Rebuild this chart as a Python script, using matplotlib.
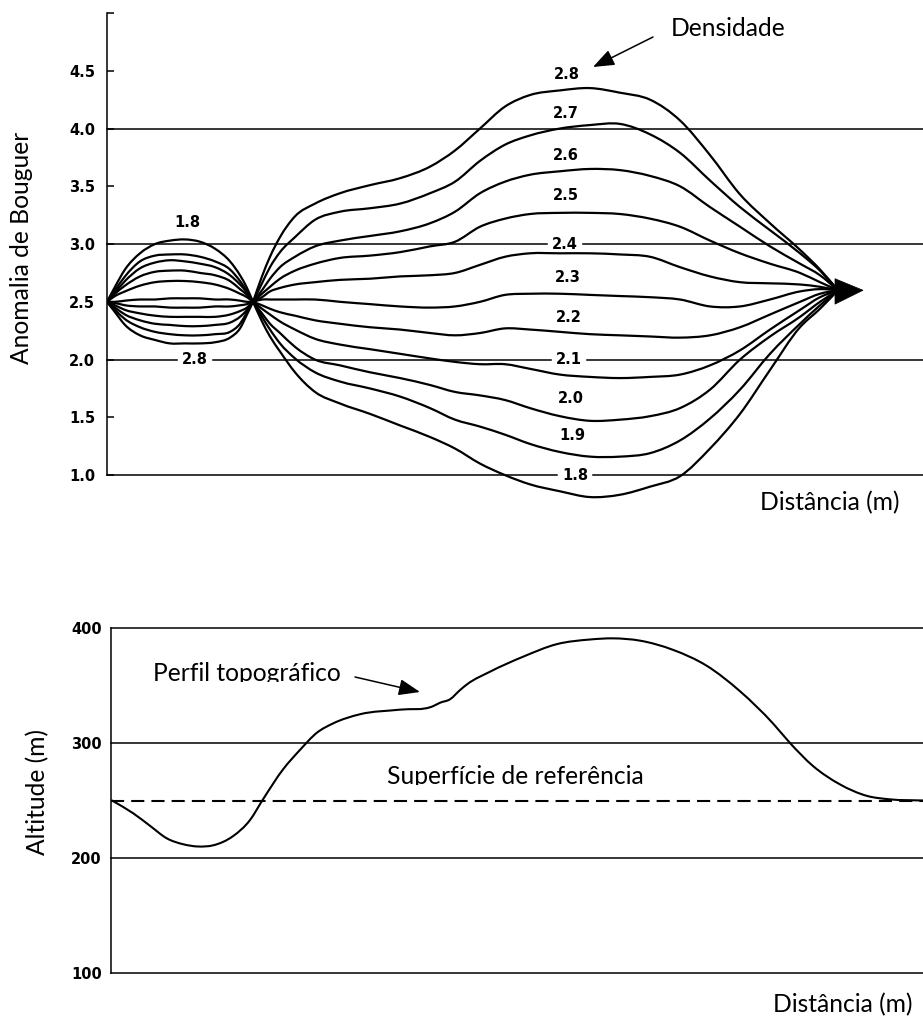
import matplotlib
matplotlib.use("Agg")
import numpy as np
import matplotlib.pyplot as plt
from matplotlib.patches import Polygon, PathPatch
from matplotlib.path import Path
from matplotlib.transforms import Bbox, TransformedBbox

# ------------------------------------------------------------------
# Trial densities (g/cm3) used to reduce the gravity profile
densities = [1.8, 1.9, 2.0, 2.1, 2.2, 2.3, 2.4, 2.5, 2.6, 2.7, 2.8]

# Bouguer anomaly over the valley section (left of the profile)
dist_valley = [0, 8, 18, 33, 48, 63, 78, 93, 108, 123, 133, 140, 146]
valley_d18 = [2.50, 2.63, 2.78, 2.92, 3.00, 3.03, 3.04, 3.02, 2.96, 2.85, 2.73, 2.62, 2.50]
valley_d19 = [2.50, 2.60, 2.72, 2.85, 2.90, 2.91, 2.91, 2.89, 2.85, 2.78, 2.68, 2.59, 2.50]
valley_d20 = [2.50, 2.58, 2.68, 2.79, 2.84, 2.86, 2.85, 2.83, 2.80, 2.73, 2.65, 2.58, 2.50]
valley_d21 = [2.50, 2.57, 2.64, 2.72, 2.76, 2.77, 2.77, 2.75, 2.73, 2.68, 2.61, 2.56, 2.50]
valley_d22 = [2.50, 2.55, 2.59, 2.64, 2.67, 2.68, 2.68, 2.67, 2.65, 2.61, 2.57, 2.54, 2.50]
valley_d23 = [2.50, 2.50, 2.51, 2.52, 2.52, 2.53, 2.53, 2.53, 2.52, 2.52, 2.51, 2.50, 2.50]
valley_d24 = [2.50, 2.49, 2.47, 2.46, 2.46, 2.45, 2.45, 2.45, 2.46, 2.46, 2.47, 2.48, 2.50]
valley_d25 = [2.50, 2.47, 2.43, 2.40, 2.38, 2.37, 2.37, 2.37, 2.37, 2.39, 2.42, 2.45, 2.50]
valley_d26 = [2.50, 2.45, 2.39, 2.34, 2.31, 2.30, 2.29, 2.29, 2.30, 2.32, 2.37, 2.43, 2.50]
valley_d27 = [2.50, 2.43, 2.35, 2.28, 2.24, 2.22, 2.21, 2.21, 2.22, 2.24, 2.31, 2.41, 2.50]
valley_d28 = [2.50, 2.41, 2.30, 2.21, 2.17, 2.14, 2.14, 2.14, 2.15, 2.19, 2.27, 2.39, 2.50]

# Bouguer anomaly over the hill section
dist_hill = [146, 155, 163, 173, 188, 208, 233, 263, 293, 323, 348, 373, 398,
             423, 453, 483, 513, 543, 573, 603, 633, 663, 693, 713, 731]
hill_d18 = [2.50, 2.33, 2.20, 2.07, 1.89, 1.72, 1.62, 1.53, 1.43, 1.33, 1.23, 1.10, 1.00,
            0.92, 0.86, 0.81, 0.83, 0.90, 0.99, 1.23, 1.53, 1.91, 2.28, 2.44, 2.60]
hill_d19 = [2.50, 2.37, 2.26, 2.14, 2.01, 1.89, 1.81, 1.75, 1.68, 1.58, 1.48, 1.42, 1.35,
            1.27, 1.20, 1.16, 1.16, 1.19, 1.30, 1.49, 1.74, 2.05, 2.31, 2.47, 2.60]
hill_d20 = [2.50, 2.40, 2.31, 2.23, 2.11, 2.00, 1.95, 1.89, 1.84, 1.78, 1.72, 1.69, 1.65,
            1.58, 1.51, 1.47, 1.48, 1.51, 1.58, 1.74, 2.00, 2.20, 2.37, 2.50, 2.60]
hill_d21 = [2.50, 2.44, 2.39, 2.33, 2.26, 2.18, 2.13, 2.09, 2.05, 2.01, 1.98, 1.96, 1.96,
            1.92, 1.87, 1.85, 1.84, 1.85, 1.87, 1.95, 2.08, 2.26, 2.43, 2.54, 2.60]
hill_d22 = [2.50, 2.47, 2.44, 2.41, 2.38, 2.34, 2.31, 2.28, 2.26, 2.23, 2.21, 2.23, 2.27,
            2.26, 2.24, 2.22, 2.21, 2.20, 2.19, 2.21, 2.28, 2.39, 2.50, 2.57, 2.60]
hill_d23 = [2.50, 2.52, 2.52, 2.52, 2.52, 2.52, 2.50, 2.48, 2.46, 2.45, 2.46, 2.50, 2.56,
            2.57, 2.57, 2.56, 2.55, 2.54, 2.52, 2.46, 2.46, 2.52, 2.59, 2.61, 2.60]
hill_d24 = [2.50, 2.54, 2.59, 2.62, 2.65, 2.67, 2.69, 2.70, 2.72, 2.73, 2.75, 2.82, 2.89,
            2.92, 2.92, 2.92, 2.91, 2.89, 2.80, 2.72, 2.67, 2.66, 2.65, 2.63, 2.60]
hill_d25 = [2.50, 2.57, 2.63, 2.70, 2.77, 2.83, 2.88, 2.90, 2.93, 2.98, 3.02, 3.15, 3.22,
            3.26, 3.27, 3.27, 3.26, 3.22, 3.15, 3.03, 2.92, 2.83, 2.75, 2.67, 2.60]
hill_d26 = [2.50, 2.60, 2.70, 2.80, 2.89, 2.98, 3.03, 3.07, 3.11, 3.18, 3.28, 3.44, 3.54,
            3.60, 3.63, 3.65, 3.64, 3.59, 3.50, 3.32, 3.15, 2.98, 2.83, 2.73, 2.60]
hill_d27 = [2.50, 2.66, 2.80, 2.93, 3.06, 3.21, 3.28, 3.31, 3.35, 3.44, 3.54, 3.72, 3.86,
            3.94, 4.00, 4.03, 4.04, 3.95, 3.79, 3.55, 3.32, 3.12, 2.92, 2.77, 2.60]
hill_d28 = [2.50, 2.72, 2.89, 3.06, 3.24, 3.35, 3.44, 3.51, 3.57, 3.67, 3.81, 4.00, 4.19,
            4.29, 4.33, 4.35, 4.31, 4.25, 4.07, 3.77, 3.43, 3.18, 2.95, 2.78, 2.60]

anom_ticks = [1.0, 1.5, 2.0, 2.5, 3.0, 3.5, 4.0, 4.5]
anom_tick_labels = ["1.0", "1.5", "2.0", "2.5", "3.0", "3.5", "4.0", "4.5"]
anom_grid = [1.0, 2.0, 3.0, 4.0]

# Topographic profile (altitude in m)
topo_dist = [5, 26, 43, 60, 76, 91, 106, 126, 143, 156, 176, 193, 210, 226, 253, 293,
             326, 333, 343, 353, 360, 383, 416, 450, 483, 506, 533, 566, 600, 633,
             666, 683, 706, 733, 760, 783, 816]
topo_alt = [250, 239, 228, 217, 212, 210, 211, 219, 233, 251, 277, 294, 309, 317, 325, 329,
            332, 335, 338, 346, 351, 362, 375, 386, 390, 391, 389, 381, 367, 345,
            317, 300, 280, 264, 254, 251, 250]
reference_level = 250
alt_ticks = [100, 200, 300, 400]
alt_tick_labels = ["100", "200", "300", "400"]

valley_profiles = [valley_d18, valley_d19, valley_d20, valley_d21, valley_d22, valley_d23,
                   valley_d24, valley_d25, valley_d26, valley_d27, valley_d28]
hill_profiles = [hill_d18, hill_d19, hill_d20, hill_d21, hill_d22, hill_d23,
                 hill_d24, hill_d25, hill_d26, hill_d27, hill_d28]

# ------------------------------------------------------------------
W, H = 923, 1019
fig = plt.figure(figsize=(W / 100, H / 100), dpi=100)


def fx(px):
    return px / W


def fy(py):
    return 1 - py / H


INK = "black"
SANS = ["Lato", "DejaVu Sans"]
NUM = dict(family="DejaVu Sans", weight="bold", size=10.5)
TXT_SIZE = 17.7
CURVE_LW = 1.6
GRID_LW = 1.1


def smooth_curve(ax, xs, ys, lw=CURVE_LW, zorder=3):
    """Draw a hand-drafted style curve: a cubic Hermite path through every point."""
    x = np.asarray(xs, float)
    y = np.asarray(ys, float)
    n = len(x)
    slope = np.diff(y) / np.diff(x)
    m = np.empty(n)
    m[0], m[-1] = slope[0], slope[-1]
    for i in range(1, n - 1):
        h0, h1 = x[i] - x[i - 1], x[i + 1] - x[i]
        m[i] = (slope[i - 1] * h1 + slope[i] * h0) / (h0 + h1)
    verts = [(x[0], y[0])]
    codes = [Path.MOVETO]
    for i in range(n - 1):
        h = x[i + 1] - x[i]
        verts += [(x[i] + h / 3, y[i] + m[i] * h / 3),
                  (x[i + 1] - h / 3, y[i + 1] - m[i + 1] * h / 3),
                  (x[i + 1], y[i + 1])]
        codes += [Path.CURVE4] * 3
    ax.add_patch(PathPatch(Path(verts, codes), fill=False, edgecolor=INK, lw=lw,
                           joinstyle="round", capstyle="round", zorder=zorder))


def gapped_hline(ax, y, x0, x1, gaps, half=18):
    start = x0
    for g in sorted(gaps):
        ax.plot([start, g - half], [y, y], color=INK, lw=GRID_LW, clip_on=False, zorder=2)
        start = g + half
    ax.plot([start, x1], [y, y], color=INK, lw=GRID_LW, clip_on=False, zorder=2)


# ---------------- upper panel: Bouguer anomaly ----------------
ax1 = fig.add_axes([fx(107), fy(504), (W - 107) / W, (504 - 13) / H])
ax1.set_xlim(0, 816)
ax1.set_ylim(0.75, 5.0)
for side in ("top", "right", "bottom"):
    ax1.spines[side].set_visible(False)
ax1.spines["left"].set_bounds(1.0, 5.0)
ax1.spines["left"].set_linewidth(GRID_LW)
ax1.set_yticks(anom_ticks + [5.0])
ax1.set_yticklabels(anom_tick_labels + [""])
ax1.tick_params(axis="y", direction="in", length=5, width=GRID_LW, pad=8.5)
ax1.tick_params(axis="x", bottom=False, labelbottom=False)
plt.setp(ax1.get_yticklabels(), **NUM)

# density labels beside the curves (hill section listed from 1.8 at bottom to 2.8 at top)
hill_label_x = [468, 465, 464, 462, 462, 461, 458, 459, 459, 459, 460]
hill_label_y = [1.00, 1.34, 1.66, 2.00, 2.36, 2.71, 3.00, 3.42, 3.77, 4.13, 4.47]
valley_label_x = [80, 88]
valley_label_y = [3.19, 2.00]

gaps = {g: [] for g in anom_grid}
for x, y in zip(hill_label_x + valley_label_x, hill_label_y + valley_label_y):
    if y in gaps:
        gaps[y].append(x)
for g in anom_grid:
    gapped_hline(ax1, g, 0, 816, gaps[g])

for prof in valley_profiles:
    smooth_curve(ax1, dist_valley, prof)
for prof in hill_profiles:
    smooth_curve(ax1, dist_hill, prof)

# converging point at the end of the hill section
nx, nv = dist_hill[-1], hill_d28[-1]
ax1.add_patch(Polygon([(nx - 3, nv + 0.10), (nx - 3, nv - 0.12), (nx + 25, nv)],
                      closed=True, facecolor=INK, edgecolor=INK, lw=0.5, zorder=3))

for d, x, y in zip(densities, hill_label_x, hill_label_y):
    ax1.text(x, y, f"{d:.1f}", ha="center", va="center", zorder=5, **NUM)
for d, x, y in zip([densities[0], densities[-1]], valley_label_x, valley_label_y):
    ax1.text(x, y, f"{d:.1f}", ha="center", va="center", zorder=5, **NUM)

fig.text(fx(22), fy(248), "Anomalia de Bouguer", rotation=90, ha="center", va="center",
         family=SANS, size=TXT_SIZE)
fig.text(fx(760), fy(503), "Distância (m)", ha="left", va="center", family=SANS, size=TXT_SIZE)
fig.text(fx(671), fy(29), "Densidade", ha="left", va="center", family=SANS, size=TXT_SIZE)
ax1.annotate("", xy=(fx(593), fy(67)), xycoords="figure fraction",
             xytext=(fx(653), fy(37)), textcoords="figure fraction",
             arrowprops=dict(arrowstyle="-|>,head_length=0.65,head_width=0.25", lw=1.1,
                             color=INK, shrinkA=0, shrinkB=0, mutation_scale=20),
             annotation_clip=False)

# ---------------- lower panel: topography ----------------
ax2 = fig.add_axes([fx(111), fy(973), (W - 111) / W, (973 - 628) / H])
ax2.set_xlim(4, 816)
ax2.set_ylim(100, 400)
for side in ("top", "right", "bottom"):
    ax2.spines[side].set_visible(False)
ax2.spines["left"].set_linewidth(GRID_LW)
ax2.set_yticks(alt_ticks)
ax2.set_yticklabels(alt_tick_labels)
ax2.tick_params(axis="y", direction="in", length=0, pad=6.5)
ax2.tick_params(axis="x", bottom=False, labelbottom=False)
plt.setp(ax2.get_yticklabels(), **NUM)

for a in alt_ticks:
    ax2.plot([4, 816], [a, a], color=INK, lw=GRID_LW, clip_on=False, zorder=2)
ax2.plot([4, 816], [reference_level, reference_level], color=INK, lw=1.5,
         dashes=(6.3, 3.4), zorder=3)
smooth_curve(ax2, topo_dist, topo_alt, lw=1.5, zorder=4)

fig.text(fx(38), fy(792), "Altitude (m)", rotation=90, ha="center", va="center",
         family=SANS, size=TXT_SIZE)
fig.text(fx(773), fy(1005), "Distância (m)", ha="left", va="center", family=SANS,
         size=TXT_SIZE)

# captions inside the lower panel are cut at the baseline
t1 = fig.text(fx(153), fy(681), "Perfil topográfico", ha="left", va="baseline",
              family=SANS, size=TXT_SIZE)
t1.set_clip_box(TransformedBbox(Bbox.from_extents(0, fy(681.5), 1, 1), fig.transFigure))
t1.set_clip_on(True)
t2 = fig.text(fx(387), fy(784), "Superfície de referência", ha="left", va="baseline",
              family=SANS, size=TXT_SIZE)
t2.set_clip_box(TransformedBbox(Bbox.from_extents(0, fy(784.5), 1, 1), fig.transFigure))
t2.set_clip_on(True)
ax2.annotate("", xy=(fx(420), fy(692)), xycoords="figure fraction",
             xytext=(fx(355), fy(677)), textcoords="figure fraction",
             arrowprops=dict(arrowstyle="-|>,head_length=0.65,head_width=0.25", lw=1.1,
                             color=INK, shrinkA=0, shrinkB=0, mutation_scale=20),
             annotation_clip=False)

fig.savefig("out.png", dpi=100, facecolor="white")
